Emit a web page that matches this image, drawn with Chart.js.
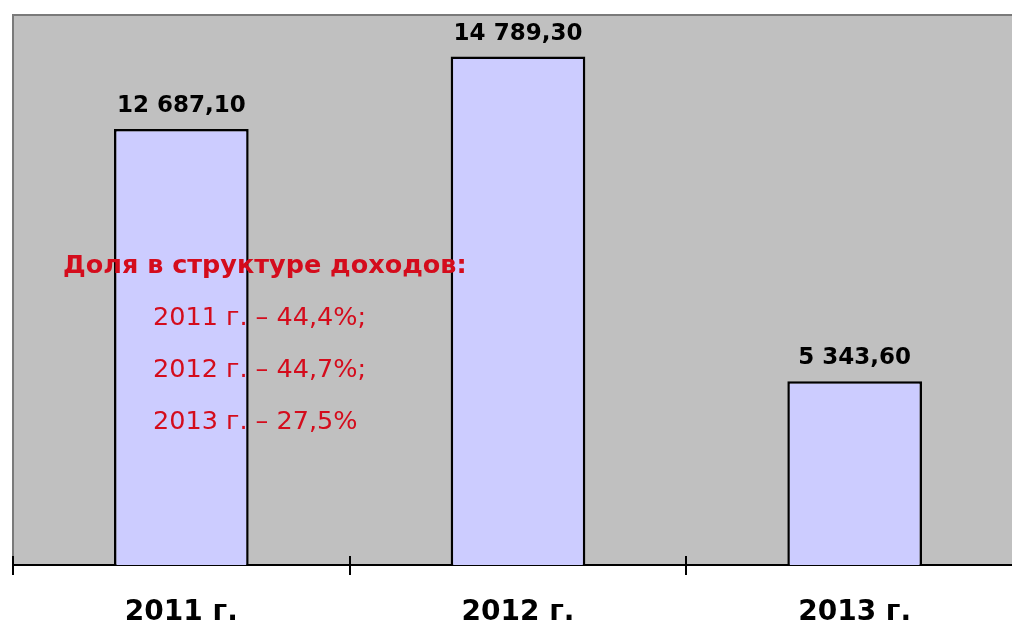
<!DOCTYPE html>
<html>
<head>
<meta charset="utf-8">
<script src="https://cdn.jsdelivr.net/npm/chart.js@4.4.1/dist/chart.umd.min.js"></script>
<style>
  html, body { margin: 0; padding: 0; background: #ffffff; overflow: hidden; }
  #wrap { width: 1030px; height: 624px; position: relative; }
</style>
</head>
<body>
<div id="wrap"><canvas id="c" width="1030" height="624"></canvas></div>
<script>
// ---- data ----
const categories = ['2011 г.', '2012 г.', '2013 г.'];
const values = [12687.10, 14789.30, 5343.60];
const yMin = 0;
const yMax = 16000;
const noteTitle = 'Доля в структуре доходов:';
const noteLines = ['2011 г. – 44,4%;', '2012 г. – 44,7%;', '2013 г. – 27,5%'];

function fmt(v) {
  const parts = v.toFixed(2).split('.');
  const intPart = parts[0].replace(/\B(?=(\d{3})+(?!\d))/g, ' ');
  return intPart + ',' + parts[1];
}

const plotBg = {
  id: 'plotBg',
  beforeDraw(chart) {
    const { ctx, chartArea: a } = chart;
    ctx.save();
    ctx.fillStyle = '#c0c0c0';
    ctx.fillRect(a.left, a.top, a.right - a.left, a.bottom - a.top);
    ctx.strokeStyle = '#7a7a7a';
    ctx.lineWidth = 2;
    ctx.beginPath();
    ctx.moveTo(a.left, a.bottom);
    ctx.lineTo(a.left, a.top);
    ctx.lineTo(a.right, a.top);
    ctx.stroke();
    ctx.restore();
  }
};

const extras = {
  id: 'extras',
  afterDatasetsDraw(chart) {
    const { ctx, chartArea: a } = chart;
    const meta = chart.getDatasetMeta(0);
    ctx.save();
    // value labels
    ctx.fillStyle = '#000000';
    ctx.font = 'bold 23px "DejaVu Sans"';
    ctx.textAlign = 'center';
    ctx.textBaseline = 'alphabetic';
    meta.data.forEach((bar, i) => {
      ctx.fillText(fmt(values[i]), bar.x, bar.y - 17);
    });
    // note text
    ctx.fillStyle = '#d40c1c';
    ctx.textAlign = 'left';
    ctx.font = 'bold 25.5px "DejaVu Sans"';
    ctx.fillText(noteTitle, 63, 273);
    ctx.font = '25.5px "DejaVu Sans"';
    noteLines.forEach((t, i) => {
      ctx.fillText(t, 153, 325 + i * 52);
    });
    ctx.restore();
  },
  afterDraw(chart) {
    const { ctx, chartArea: a } = chart;
    const xs = chart.scales.x;
    const n = categories.length;
    const step = (xs.getPixelForTick(1) - xs.getPixelForTick(0));
    ctx.save();
    ctx.strokeStyle = '#000000';
    ctx.lineWidth = 2;
    ctx.beginPath();
    for (let i = 0; i <= n; i++) {
      const x = Math.round(xs.getPixelForTick(0) - step / 2 + i * step);
      ctx.moveTo(x, a.bottom - 9);
      ctx.lineTo(x, a.bottom + 10);
    }
    ctx.stroke();
    ctx.restore();
  }
};

new Chart(document.getElementById('c'), {
  type: 'bar',
  data: {
    labels: categories,
    datasets: [{
      data: values,
      backgroundColor: '#ccccff',
      borderColor: '#000000',
      borderWidth: 2.5,
      barPercentage: 0.8,
      categoryPercentage: 0.5
    }]
  },
  options: {
    responsive: false,
    devicePixelRatio: 1,
    animation: false,
    layout: { padding: { left: 13, top: 15, right: 7, bottom: 0 } },
    plugins: { legend: { display: false }, tooltip: { enabled: false } },
    scales: {
      y: { display: false, min: yMin, max: yMax },
      x: {
        grid: { display: false },
        border: { display: true, color: '#000000', width: 2 },
        ticks: {
          color: '#000000',
          font: { family: 'DejaVu Sans', weight: 'bold', size: 28 },
          padding: 23,
          maxRotation: 0
        },
        afterFit(scale) { scale.height = 59; }
      }
    }
  },
  plugins: [plotBg, extras]
});
</script>
</body>
</html>
